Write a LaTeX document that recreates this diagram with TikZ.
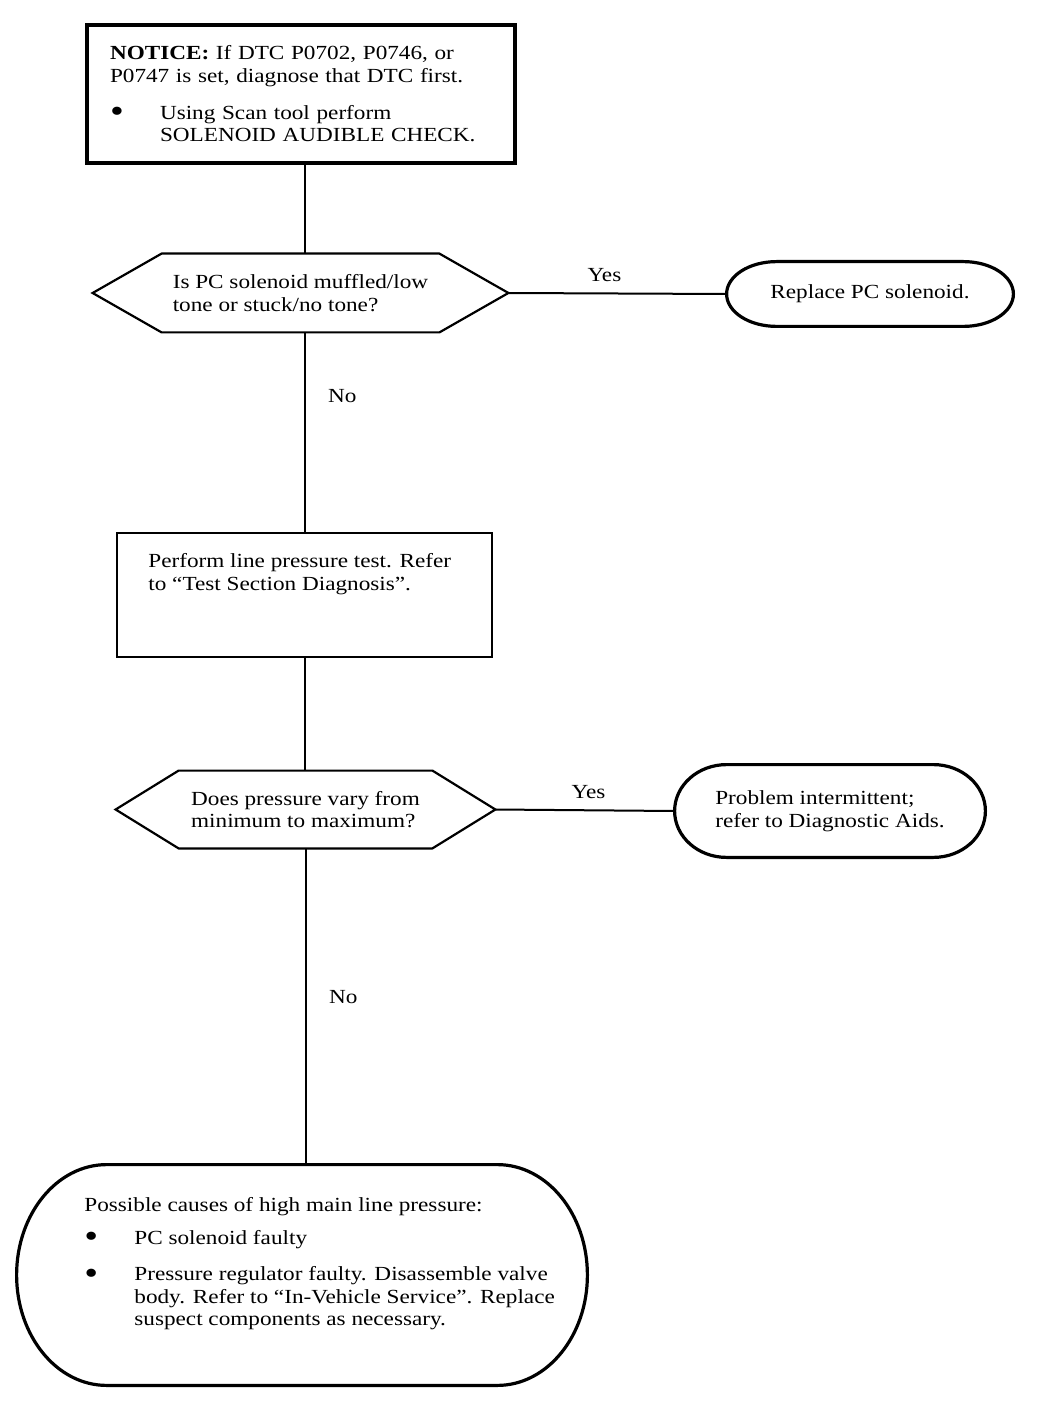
\documentclass[tikz,border=0pt]{standalone}
\usepackage{fontspec}
\usepackage{graphicx}
\setmainfont{Liberation Serif}[FakeStretch=1.16]
\usetikzlibrary{calc}

\tikzset{
  outline/.style={line width=1.6pt},
  thinout/.style={line width=1.1pt},
  link/.style={line width=1pt},
  txt/.style={inner sep=0pt, align=left},
}
\newcommand{\bul}{\makebox[25pt][l]{\raisebox{-1.8pt}{\scalebox{1.7}{\textbullet}}}}
% hexagon round a node: name, chamfer
\newcommand{\hexout}[2]{\draw[thinout] (#1.west) -- ($(#1.north west)+(#2,0)$) -- ($(#1.north east)+(-#2,0)$)
  -- (#1.east) -- ($(#1.south east)+(-#2,0)$) -- ($(#1.south west)+(#2,0)$) -- cycle;}
% capsule round a node: name, end radius
\newcommand{\capout}[2]{\draw[outline] let \p1=(#1.north east), \p2=(#1.south west), \n1={(\y1-\y2)/2} in
  ($(#1.north east)+(-#2,0pt)$) arc[start angle=90, end angle=-90, x radius=#2, y radius=\n1]
  -- ($(#1.south west)+(#2,0pt)$) arc[start angle=270, end angle=90, x radius=#2, y radius=\n1] -- cycle;}

\begin{document}
\begin{tikzpicture}[x=0.5pt, y=-0.5pt, font=\fontsize{10}{11.3}\selectfont]
  \useasboundingbox (0,0) rectangle (1056,1406);
  % boxes
  \node[txt, draw, outline, text width=191pt, minimum width=214pt, minimum height=69pt] (notice) at (301,94)
    {\textbf{NOTICE:} If DTC P0702, P0746, or\\P0747 is set, diagnose that DTC first.\\[7pt]
     \bul Using Scan tool perform\\\hspace*{25pt}SOLENOID AUDIBLE CHECK.};
  \node[txt, minimum width=207.5pt, minimum height=39pt] (pcq) at (300.5,293)
    {Is PC solenoid muffled/low\\tone or stuck/no tone?};
  \hexout{pcq}{69}
  \node[txt, minimum width=143pt, minimum height=32pt] (replace) at (870,294) {Replace PC solenoid.};
  \capout{replace}{25pt}
  \node[draw, thinout, minimum width=187.5pt, minimum height=62pt] (linetest) at (304.5,595) {};
  \node[txt, anchor=north west] (linetesttext) at (148,553)
    {Perform line pressure test. Refer\\to “Test Section Diagnosis”.};
  \node[txt, minimum width=189.5pt, minimum height=38.5pt] (varyq) at (305.5,809.5)
    {Does pressure vary from\\minimum to maximum?};
  \hexout{varyq}{63}
  \node[txt, minimum width=155pt, minimum height=46pt] (intermittent) at (830,811)
    {Problem intermittent;\\refer to Diagnostic Aids.};
  \capout{intermittent}{26pt}
  \node[minimum width=285pt, minimum height=110pt] (causes) at (302,1275) {};
  \capout{causes}{45pt}
  \node[txt, anchor=north west] (causestext) at (84,1197)
    {Possible causes of high main line pressure:\\[5pt]
     \bul PC solenoid faulty\\[7pt]
     \bul Pressure regulator faulty. Disassemble valve\\
     \hspace*{25pt}body. Refer to “In-Vehicle Service”. Replace\\
     \hspace*{25pt}suspect components as necessary.};
  % connectors
  \draw[link] (linetest.north |- notice.south) -- (linetest.north |- pcq.north);
  \draw[link] (linetest.north |- pcq.south) -- node[pos=0.32, right=8pt] (no1) {No} (linetest.north);
  \draw[link] (pcq.east) -- node[pos=0.44, above=2pt] (yes1) {Yes} (replace.west);
  \draw[link] (linetest.south) -- (linetest.south |- varyq.north);
  \draw[link] (varyq.south) -- node[pos=0.47, right=8pt] (no2) {No} (varyq.south |- causes.north);
  \draw[link] (varyq.east) -- node[pos=0.52, above=2pt] (yes2) {Yes} (intermittent.west);
\end{tikzpicture}
\end{document}
